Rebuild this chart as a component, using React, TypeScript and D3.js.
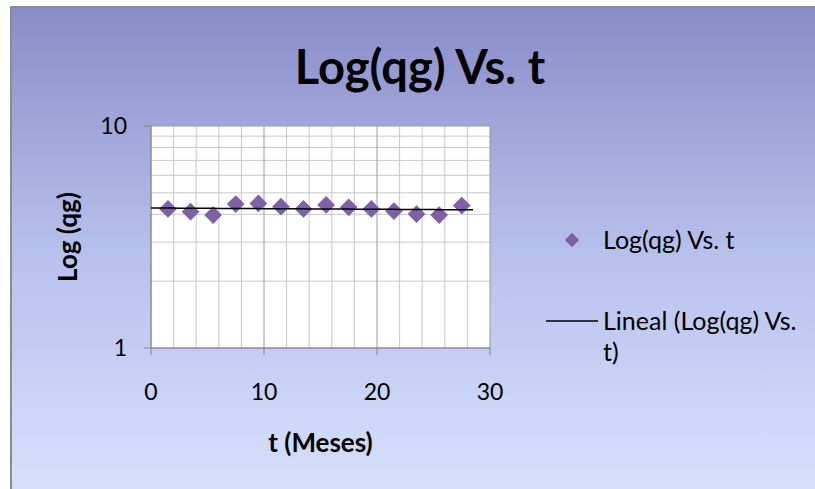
import React from "react";
import * as d3 from "d3";

// Months (t) and measured qg values
const tMonths = [1.5, 3.5, 5.5, 7.5, 9.5, 11.5, 13.5, 15.5, 17.5, 19.5, 21.5, 23.5, 25.5, 27.5];
const qgValues = [4.23, 4.11, 3.97, 4.45, 4.48, 4.33, 4.23, 4.41, 4.3, 4.23, 4.14, 4.01, 3.97, 4.38];
const xTicks = [0, 10, 20, 30];
const xMinorTicks = [2, 4, 6, 8, 12, 14, 16, 18, 22, 24, 26, 28];
const yTicks = [1, 10];
const yMinorTicks = [2, 3, 4, 5, 6, 7, 8, 9];
const trendRange = [0, 28.5];

const W = 815;
const H = 489;
const FONT = "Lato, 'Open Sans', sans-serif";

export default function App() {
  const plot = { left: 151, right: 490, top: 126, bottom: 348 };
  const x = d3.scaleLinear().domain([0, 30]).range([plot.left, plot.right]);
  const y = d3.scaleLog().domain([1, 10]).range([plot.bottom, plot.top]);

  // Least-squares linear trend of qg against t
  const mx = d3.mean(tMonths)!;
  const my = d3.mean(qgValues)!;
  const sxy = d3.sum(tMonths, (t, i) => (t - mx) * (qgValues[i] - my));
  const sxx = d3.sum(tMonths, (t) => (t - mx) ** 2);
  const slope = sxy / sxx;
  const intercept = my - slope * mx;
  const trendPts = d3.range(trendRange[0], trendRange[1] + 0.001, 0.5).map((t) => [t, intercept + slope * t] as [number, number]);
  const trendPath = d3.line<[number, number]>().x((d) => x(d[0])).y((d) => y(d[1]))(trendPts)!;

  const diamond = d3.symbol().type(d3.symbolDiamond2).size(200)()!;
  const legendDiamond = d3.symbol().type(d3.symbolDiamond2).size(130)()!;
  const purple = "#7d60a8";

  return (
    <svg width={W} height={H} style={{ position: "absolute", left: 0, top: 0, display: "block" }} fontFamily={FONT}>
      <defs>
        <linearGradient id="bg" x1="0" y1="0" x2="0" y2="1">
          <stop offset="0" stopColor="#8a8cc8" />
          <stop offset="0.5" stopColor="#b6c0ec" />
          <stop offset="1" stopColor="#d6e0fc" />
        </linearGradient>
      </defs>
      <rect x={0} y={0} width={W} height={H} fill="#ffffff" />
      <rect x={10} y={6} width={W - 10} height={H - 6} fill="#8c8c8c" />
      <rect x={12} y={8} width={W - 12} height={H - 8} fill="url(#bg)" />

      <text x={420} y={84} textAnchor="middle" fontSize={47} fontWeight="bold" fill="#000">
        Log(qg) Vs. t
      </text>

      {/* plot area */}
      <rect x={plot.left} y={plot.top} width={plot.right - plot.left} height={plot.bottom - plot.top} fill="#ffffff" />
      {xMinorTicks.map((t) => (
        <line key={"xm" + t} x1={x(t)} x2={x(t)} y1={plot.top} y2={plot.bottom} stroke="#c8c8c8" strokeWidth={1} />
      ))}
      {yMinorTicks.map((v) => (
        <line key={"ym" + v} x1={plot.left} x2={plot.right} y1={y(v)} y2={y(v)} stroke="#c8c8c8" strokeWidth={1} />
      ))}
      {xTicks.map((t) => (
        <line key={"xg" + t} x1={x(t)} x2={x(t)} y1={plot.top} y2={plot.bottom} stroke="#9a9a9a" strokeWidth={1} />
      ))}
      {yTicks.map((v) => (
        <line key={"yg" + v} x1={plot.left} x2={plot.right} y1={y(v)} y2={y(v)} stroke="#9a9a9a" strokeWidth={1} />
      ))}

      {/* axes */}
      <line x1={plot.left} x2={plot.left} y1={plot.top} y2={plot.bottom} stroke="#868686" />
      <line x1={plot.left} x2={plot.right} y1={plot.bottom} y2={plot.bottom} stroke="#868686" />
      {yTicks.map((v) => (
        <g key={"yt" + v}>
          <line x1={plot.left - 7} x2={plot.left} y1={y(v)} y2={y(v)} stroke="#868686" />
          <text x={plot.left - 24} y={y(v)} dy="0.35em" textAnchor="end" fontSize={23} fill="#000">
            {v}
          </text>
        </g>
      ))}
      {xTicks.map((t) => (
        <g key={"xt" + t}>
          <line x1={x(t)} x2={x(t)} y1={plot.bottom} y2={plot.bottom + 7} stroke="#868686" />
          <text x={x(t)} y={plot.bottom + 44} dy="0.35em" textAnchor="middle" fontSize={23} fill="#000">
            {t}
          </text>
        </g>
      ))}

      <text x={x(15)} y={443} dy="0.35em" textAnchor="middle" fontSize={26} fontWeight="bold" fill="#000">
        t (Meses)
      </text>
      <text
        transform={`translate(68, ${(plot.top + plot.bottom) / 2}) rotate(-90)`}
        dy="0.35em"
        textAnchor="middle"
        fontSize={26}
        fontWeight="bold"
        fill="#000"
      >
        Log (qg)
      </text>

      {/* data */}
      {tMonths.map((t, i) => (
        <path key={"p" + i} d={diamond} transform={`translate(${x(t)},${y(qgValues[i])})`} fill={purple} />
      ))}
      <path d={trendPath} fill="none" stroke="#000" strokeWidth={1.5} />

      {/* legend */}
      <path d={legendDiamond} transform="translate(572,240)" fill={purple} />
      <text x={603} y={240} dy="0.35em" fontSize={25} fill="#000">
        Log(qg) Vs. t
      </text>
      <line x1={546} x2={598} y1={321} y2={321} stroke="#000" strokeWidth={1.5} />
      <text x={603} y={321} dy="0.35em" fontSize={25} fill="#000">
        Lineal (Log(qg) Vs.
      </text>
      <text x={603} y={352} dy="0.35em" fontSize={25} fill="#000">
        t)
      </text>
    </svg>
  );
}
